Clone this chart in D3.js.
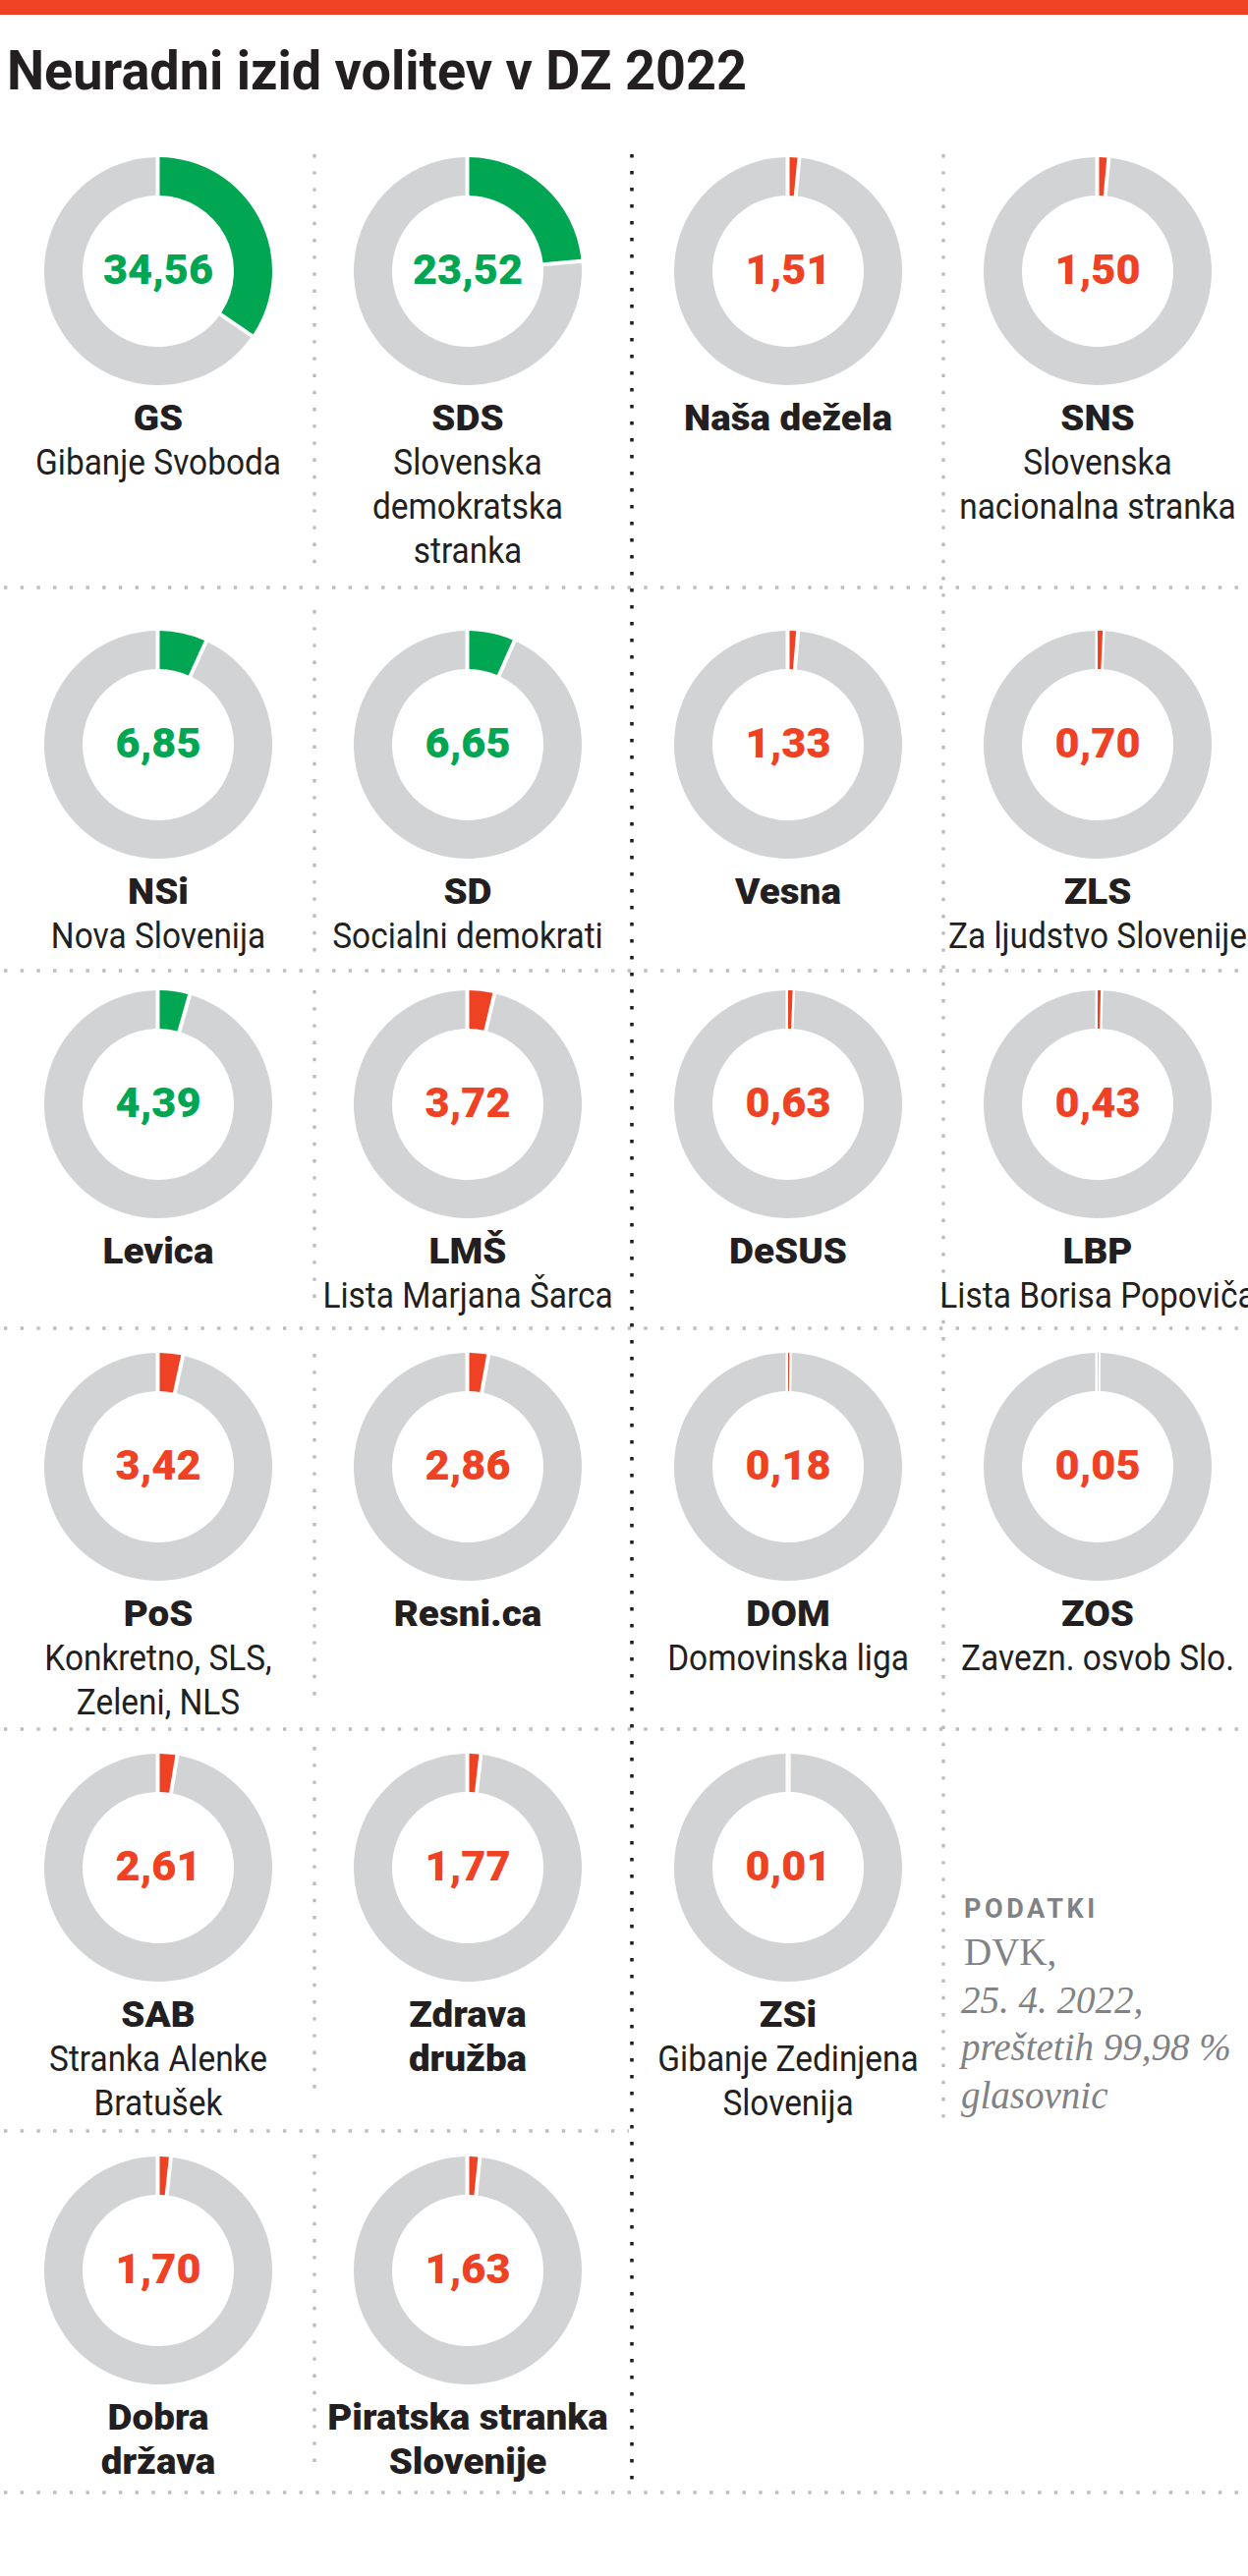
<!DOCTYPE html>
<html>
<head>
<meta charset="utf-8">
<script src="https://cdn.jsdelivr.net/npm/d3@7"></script>
<style>
  html, body { margin: 0; padding: 0; background: #fff; }
  svg { display: block; }
</style>
</head>
<body>
<div id="chart"></div>
<script>
// ---------------- DATA ----------------
const chartTitle = "Neuradni izid volitev v DZ 2022";
const partyBold = [
  ["GS"], ["SDS"], ["NSi"], ["SD"], ["Levica"], ["LMŠ"], ["PoS"], ["Resni.ca"],
  ["SAB"], ["Zdrava", "družba"], ["Dobra", "država"], ["Piratska stranka", "Slovenije"],
  ["Naša dežela"], ["SNS"], ["Vesna"], ["ZLS"], ["DeSUS"], ["LBP"], ["DOM"], ["ZOS"], ["ZSi"]
];
const partyNames = [
  ["Gibanje Svoboda"], ["Slovenska", "demokratska", "stranka"], ["Nova Slovenija"],
  ["Socialni demokrati"], [], ["Lista Marjana Šarca"], ["Konkretno, SLS,", "Zeleni, NLS"], [],
  ["Stranka Alenke", "Bratušek"], [], [], [],
  [], ["Slovenska", "nacionalna stranka"], [], ["Za ljudstvo Slovenije"], [],
  ["Lista Borisa Popoviča"], ["Domovinska liga"], ["Zavezn. osvob Slo."], ["Gibanje Zedinjena", "Slovenija"]
];
const voteShares = [34.56, 23.52, 6.85, 6.65, 4.39, 3.72, 3.42, 2.86, 2.61, 1.77, 1.70, 1.63,
                    1.51, 1.50, 1.33, 0.70, 0.63, 0.43, 0.18, 0.05, 0.01];
const threshold = 4; // parliamentary threshold (%): above -> green, below -> red
const sourceLabel = "PODATKI";
const sourceLines = [
  { text: "DVK,", italic: false },
  { text: "25. 4. 2022,", italic: true },
  { text: "preštetih 99,98 %", italic: true },
  { text: "glasovnic", italic: true }
];

// ---------------- LAYOUT ----------------
const W = 1270, H = 2622;
const colX = [161, 476, 802, 1117];
const rowY = [276, 758, 1124, 1493, 1901, 2311];
const sepY = [598, 988, 1352, 1760, 2169, 2537];
const sepRight = [W, W, W, W, 640, W];
const grayVSeg12 = [[157, 574], [621, 973], [1008, 1330], [1378, 1733], [1778, 2138], [2193, 2513]];
const rOuter = 116, rInner = 77;
const lineH = 45;

const C = {
  green: "#00a651",
  red: "#ef4123",
  ring: "#d1d3d4",
  text: "#231f20",
  src: "#808285",
  dotGray: "#bcbec0",
  dotBlack: "#231f20"
};
const SANS = "Roboto, 'Noto Sans', sans-serif";
const SERIF = "'Liberation Serif', 'DejaVu Serif', serif";

const svg = d3.select("#chart").append("svg")
  .attr("width", W).attr("height", H)
  .attr("viewBox", `0 0 ${W} ${H}`);

svg.append("rect").attr("width", W).attr("height", H).attr("fill", "#fff");

// top bar
svg.append("rect").attr("x", 0).attr("y", 0).attr("width", W).attr("height", 15).attr("fill", C.red);

// text styles
const styles = {
  title: s => s.attr("font-family", SANS).attr("font-weight", 700).attr("font-size", 55).attr("fill", C.text),
  value: s => s.attr("font-family", SANS).attr("font-weight", 900).attr("font-size", 43),
  bold:  s => s.attr("font-family", SANS).attr("font-weight", 900).attr("font-size", 37).attr("fill", C.text),
  name:  s => s.attr("font-family", SANS).attr("font-weight", 400).attr("font-size", 37).attr("fill", C.text)
};
function fitFactor(str, style, target) {
  const t = svg.append("text").text(str).call(style);
  const w = t.node().getComputedTextLength();
  t.remove();
  return w > 0 ? target / w : 1;
}
const fTitle = fitFactor(chartTitle, styles.title, 753);
const fValue = fitFactor("34,56", styles.value, 112);
const fBold  = fitFactor("Naša dežela", styles.bold, 212);
const fName  = fitFactor("Gibanje Svoboda", styles.name, 250);

// title
svg.append("text")
  .attr("transform", `translate(7,91) scale(${fTitle},1)`)
  .call(styles.title)
  .text(chartTitle);

// ---------------- separators ----------------
const sepG = svg.append("g");
sepY.forEach((y, i) => {
  sepG.append("line")
    .attr("x1", 4).attr("x2", sepRight[i]).attr("y1", y).attr("y2", y)
    .attr("stroke", C.dotGray).attr("stroke-width", 3.4)
    .attr("stroke-dasharray", "3.4 13.3");
});
grayVSeg12.forEach(([a, b]) => {
  sepG.append("line")
    .attr("x1", 320).attr("x2", 320).attr("y1", a).attr("y2", b)
    .attr("stroke", C.dotGray).attr("stroke-width", 3.4)
    .attr("stroke-dasharray", "3.4 13.8");
});
sepG.append("line")
  .attr("x1", 960).attr("x2", 960).attr("y1", 157).attr("y2", 2164)
  .attr("stroke", C.dotGray).attr("stroke-width", 3.4)
  .attr("stroke-dasharray", "3.4 13.8");
sepG.append("line")
  .attr("x1", 643).attr("x2", 643).attr("y1", 157).attr("y2", 2524)
  .attr("stroke", C.dotBlack).attr("stroke-width", 3.6)
  .attr("stroke-dasharray", "3.6 13.4");

// ---------------- donuts ----------------
const angle = d3.scaleLinear().domain([0, 100]).range([0, 2 * Math.PI]);
const arcRest = d3.arc().innerRadius(rInner).outerRadius(rOuter)
  .padRadius(rOuter).padAngle(5 / rOuter);
const fmt = v => d3.format(".2f")(v).replace(".", ",");

const parties = voteShares.map((v, i) => {
  let row, col;
  if (i < 12) { row = Math.floor(i / 2); col = i % 2; }
  else { const j = i - 12; row = Math.floor(j / 2); col = 2 + (j % 2); }
  return { value: v, bold: partyBold[i], names: partyNames[i], row, col };
});

const cell = svg.selectAll("g.party").data(parties).join("g")
  .attr("class", "party")
  .attr("transform", d => `translate(${colX[d.col]},${rowY[d.row]})`);

// grey remainder
cell.append("path")
  .attr("fill", C.ring)
  .attr("d", d => arcRest({ startAngle: angle(d.value), endAngle: 2 * Math.PI }));

// coloured share
cell.append("path")
  .attr("fill", d => d.value >= threshold ? C.green : C.red)
  .attr("d", d => {
    const a = angle(d.value);
    const pad = a * rInner > 6 ? 3 / rOuter : 0;
    return d3.arc().innerRadius(rInner).outerRadius(rOuter).padRadius(rOuter).padAngle(pad)
      ({ startAngle: 0, endAngle: a });
  });

// value label
cell.append("text")
  .attr("transform", `translate(0,13) scale(${fValue},1)`)
  .attr("text-anchor", "middle")
  .call(styles.value)
  .attr("fill", d => d.value >= threshold ? C.green : C.red)
  .text(d => fmt(d.value));

// bold labels
cell.each(function (d) {
  const g = d3.select(this);
  let y = 162;
  d.bold.forEach(line => {
    g.append("text")
      .attr("transform", `translate(0,${y}) scale(${fBold},1)`)
      .attr("text-anchor", "middle")
      .call(styles.bold)
      .text(line);
    y += lineH;
  });
  d.names.forEach(line => {
    g.append("text")
      .attr("transform", `translate(0,${y}) scale(${fName},1)`)
      .attr("text-anchor", "middle")
      .call(styles.name)
      .text(line);
    y += lineH;
  });
});

// ---------------- source ----------------
const src = svg.append("g").attr("transform", "translate(981,0)");
src.append("text")
  .attr("x", 0).attr("y", 1952)
  .attr("font-family", SANS).attr("font-weight", 700).attr("font-size", 27)
  .attr("letter-spacing", 3.6)
  .attr("fill", C.src)
  .text(sourceLabel);
src.selectAll("text.srcline").data(sourceLines).join("text")
  .attr("class", "srcline")
  .attr("x", (d, i) => i === 0 ? 0 : -3)
  .attr("y", (d, i) => 2000 + i * 48.5)
  .attr("font-family", SERIF)
  .attr("font-style", d => d.italic ? "italic" : "normal")
  .attr("font-size", 39)
  .attr("fill", C.src)
  .text(d => d.text);
</script>
</body>
</html>
